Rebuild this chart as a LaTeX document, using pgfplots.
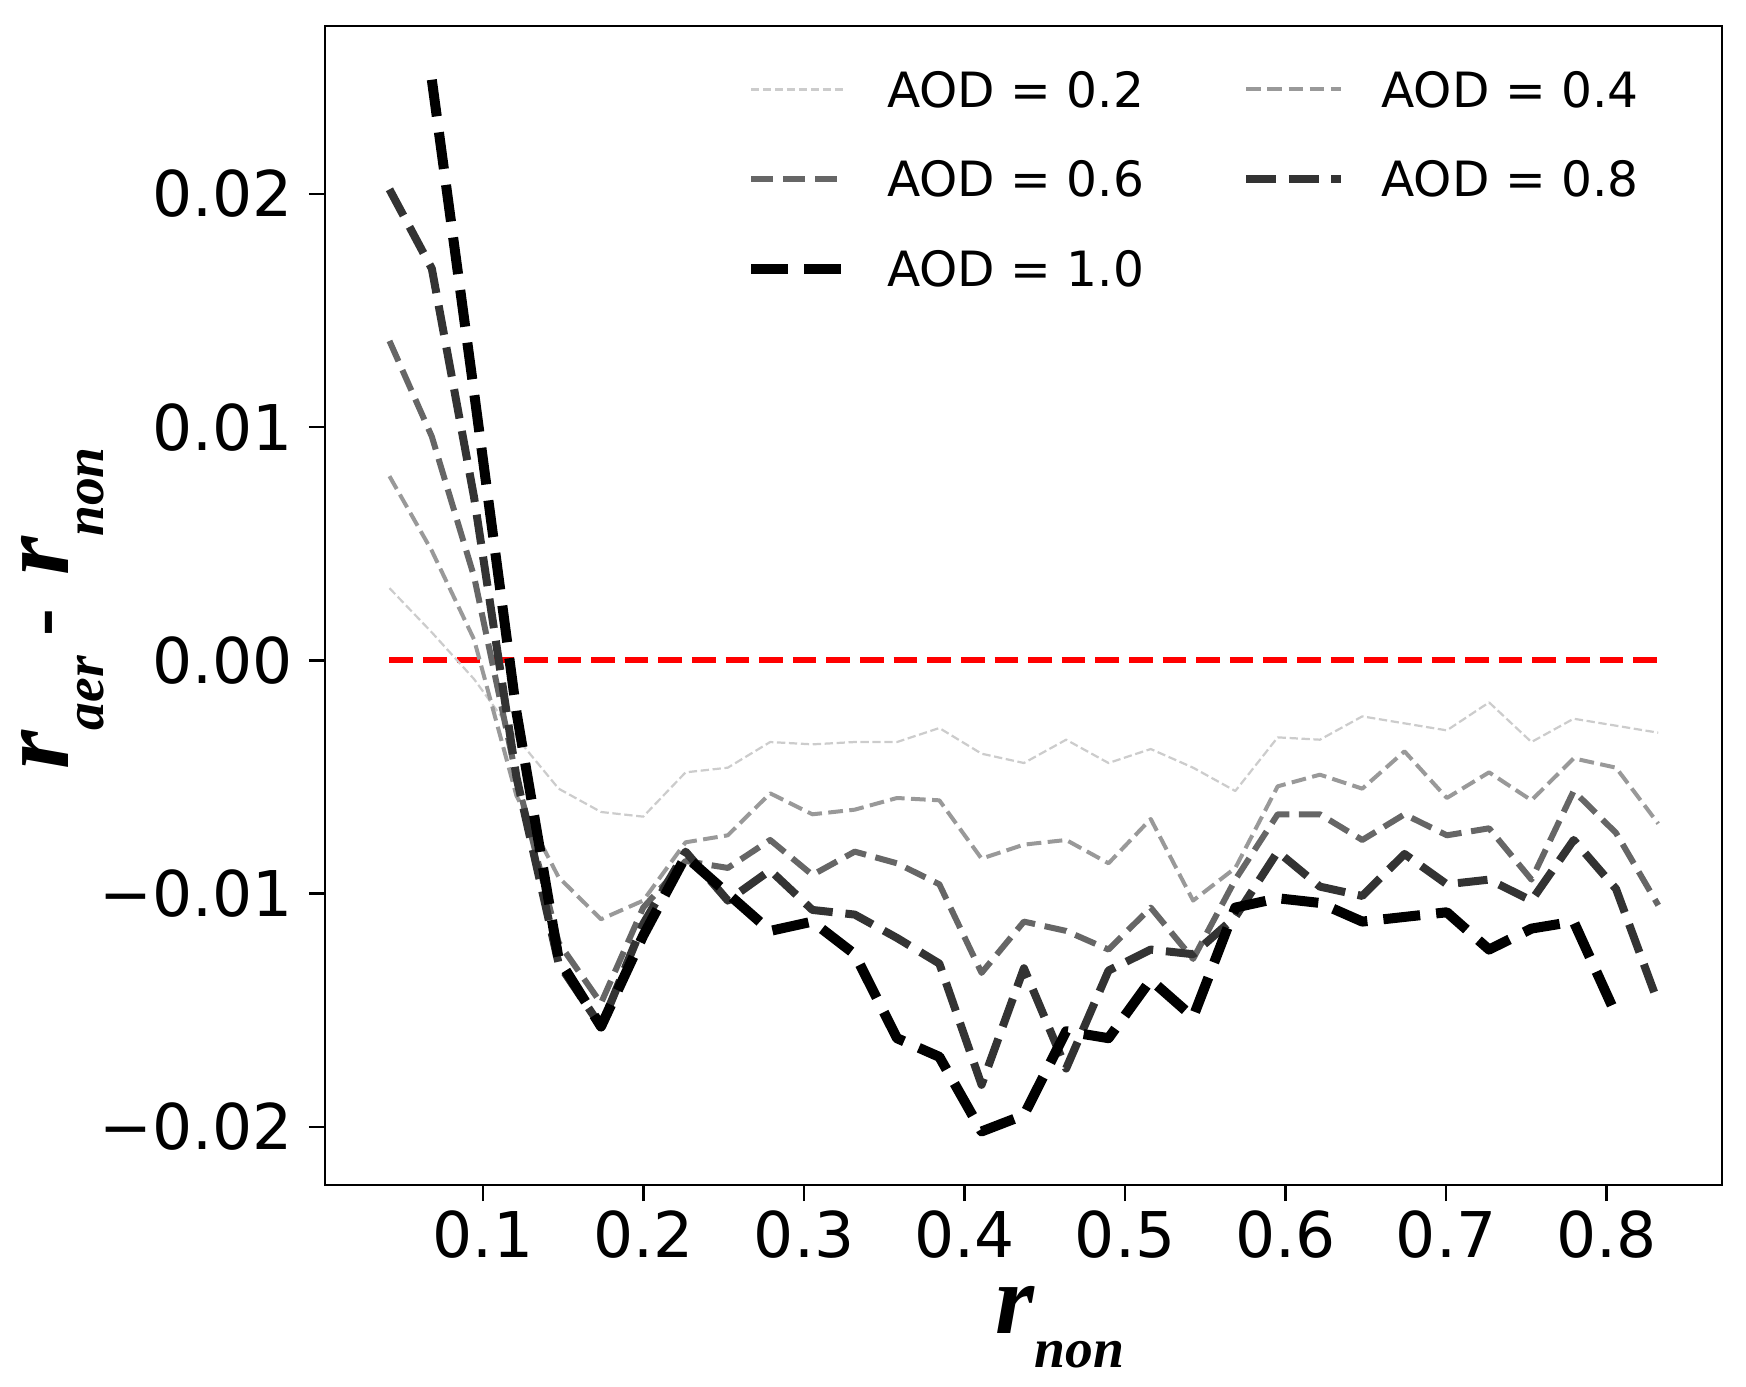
\documentclass[border=0pt]{standalone}
\usepackage{fontspec}
\setmainfont{DejaVu Sans}
\newfontfamily\lserif{Liberation Serif}
\usepackage{pgfplots}
\pgfplotsset{compat=1.18}
\definecolor{aodA}{gray}{0.80}
\definecolor{aodB}{gray}{0.60}
\definecolor{aodC}{gray}{0.40}
\definecolor{aodD}{gray}{0.20}
\newcommand\bir[1]{{\lserif\bfseries\itshape\fontsize{36bp}{36bp}\selectfont r}\raisebox{-12.5bp}{\lserif\bfseries\itshape\fontsize{20bp}{20bp}\selectfont #1}}
\begin{document}
\begin{tikzpicture}
\begin{axis}[
  at={(0,0)}, anchor=south west, scale only axis,
  width=502.9bp, height=417.2bp,
  xmin=0.00156, xmax=0.872, ymin=-0.0225, ymax=0.0272,
  axis line style={line width=0.9bp, black},
  tick align=outside, tick pos=left,
  major tick length=5.8bp,
  tick style={line width=0.9bp, black},
  xtick={0.1,0.2,0.3,0.4,0.5,0.6,0.7,0.8},
  xticklabels={0.1,0.2,0.3,0.4,0.5,0.6,0.7,0.8},
  ytick={-0.02,-0.01,0,0.01,0.02},
  yticklabels={−0.02,−0.01,0.00,0.01,0.02},
  scaled y ticks=false, scaled x ticks=false,
  tick label style={font=\fontsize{22.7bp}{27bp}\selectfont},
  yticklabel style={xshift=-2.4bp},
  legend columns=2,
  legend cell align=left,
  legend image code/.code={\draw[#1] (0bp,0bp) -- (34bp,0bp);},
  legend style={draw=none, fill=none, inner sep=0pt, outer sep=0pt,
    at={(0.3014,0.9607)}, anchor=north west, row sep=19.5bp,
    font=\fontsize{17.5bp}{21bp}\selectfont,
    nodes={inner sep=0pt, text height=12.8bp, text depth=0pt},
    /tikz/every odd column/.append style={column sep=13.2bp},
    /tikz/every even column/.append style={column sep=35.3bp}},
]
\addplot[red, line width=2.2bp, dash pattern=on 8.5bp off 3.6bp, forget plot] coordinates {(0.0417,0) (0.8322,0)};
\addplot[aodA, line width=0.8bp, dash pattern=on 3bp off 1.3bp, line join=round] coordinates {
(0.0417,0.0031) (0.0681,0.0012) (0.0944,-0.0008) (0.1208,-0.0033) (0.1471,-0.0055) (0.1735,-0.0065) (0.1998,-0.0067) (0.2262,-0.0048) (0.2525,-0.0046) (0.2789,-0.0035) (0.3052,-0.0036) (0.3316,-0.0035) (0.3579,-0.0035) (0.3843,-0.0029) (0.4106,-0.0040) (0.4370,-0.0044) (0.4633,-0.0034) (0.4897,-0.0044) (0.5160,-0.0038) (0.5424,-0.0046) (0.5687,-0.0056) (0.5951,-0.0033) (0.6214,-0.0034) (0.6478,-0.0024) (0.6741,-0.0027) (0.7005,-0.0030) (0.7268,-0.0018) (0.7532,-0.0035) (0.7795,-0.0025) (0.8059,-0.0028) (0.8322,-0.0031)};
\addlegendentry{AOD = 0.2}
\addplot[aodB, line width=1.44bp, dash pattern=on 5.3bp off 2.3bp, line join=round] coordinates {
(0.0417,0.0079) (0.0681,0.0047) (0.0944,0.0009) (0.1208,-0.0058) (0.1471,-0.0093) (0.1735,-0.0111) (0.1998,-0.0103) (0.2262,-0.0078) (0.2525,-0.0075) (0.2789,-0.0057) (0.3052,-0.0066) (0.3316,-0.0064) (0.3579,-0.0059) (0.3843,-0.0060) (0.4106,-0.0085) (0.4370,-0.0079) (0.4633,-0.0077) (0.4897,-0.0087) (0.5160,-0.0068) (0.5424,-0.0103) (0.5687,-0.0089) (0.5951,-0.0054) (0.6214,-0.0049) (0.6478,-0.0055) (0.6741,-0.0039) (0.7005,-0.0059) (0.7268,-0.0048) (0.7532,-0.0060) (0.7795,-0.0042) (0.8059,-0.0046) (0.8322,-0.0070)};
\addlegendentry{AOD = 0.4}
\addplot[aodC, line width=2.16bp, dash pattern=on 8bp off 3.5bp, line join=round] coordinates {
(0.0417,0.0137) (0.0681,0.0096) (0.0944,0.0036) (0.1208,-0.0050) (0.1471,-0.0121) (0.1735,-0.0147) (0.1998,-0.0106) (0.2262,-0.0086) (0.2525,-0.0089) (0.2789,-0.0077) (0.3052,-0.0092) (0.3316,-0.0082) (0.3579,-0.0087) (0.3843,-0.0096) (0.4106,-0.0134) (0.4370,-0.0112) (0.4633,-0.0116) (0.4897,-0.0124) (0.5160,-0.0106) (0.5424,-0.0128) (0.5687,-0.0094) (0.5951,-0.0066) (0.6214,-0.0066) (0.6478,-0.0077) (0.6741,-0.0066) (0.7005,-0.0075) (0.7268,-0.0072) (0.7532,-0.0094) (0.7795,-0.0056) (0.8059,-0.0074) (0.8322,-0.0105)};
\addlegendentry{AOD = 0.6}
\addplot[aodD, line width=2.88bp, dash pattern=on 10.7bp off 4.6bp, line join=round] coordinates {
(0.0417,0.0202) (0.0681,0.0168) (0.0944,0.0070) (0.1208,-0.0050) (0.1471,-0.0130) (0.1735,-0.0157) (0.1998,-0.0113) (0.2262,-0.0082) (0.2525,-0.0103) (0.2789,-0.0090) (0.3052,-0.0107) (0.3316,-0.0109) (0.3579,-0.0119) (0.3843,-0.0130) (0.4106,-0.0182) (0.4370,-0.0132) (0.4633,-0.0175) (0.4897,-0.0133) (0.5160,-0.0124) (0.5424,-0.0126) (0.5687,-0.0110) (0.5951,-0.0082) (0.6214,-0.0097) (0.6478,-0.0101) (0.6741,-0.0083) (0.7005,-0.0096) (0.7268,-0.0094) (0.7532,-0.0103) (0.7795,-0.0077) (0.8059,-0.0098) (0.8322,-0.0147)};
\addlegendentry{AOD = 0.8}
\addplot[black, line width=3.6bp, dash pattern=on 13.3bp off 5.8bp, line join=round] coordinates {
(0.0681,0.0249) (0.0944,0.0115) (0.1208,-0.0022) (0.1471,-0.0128) (0.1735,-0.0157) (0.1998,-0.0118) (0.2262,-0.0084) (0.2525,-0.0100) (0.2789,-0.0116) (0.3052,-0.0112) (0.3316,-0.0126) (0.3579,-0.0162) (0.3843,-0.0170) (0.4106,-0.0202) (0.4370,-0.0195) (0.4633,-0.0159) (0.4897,-0.0162) (0.5160,-0.0137) (0.5424,-0.0153) (0.5687,-0.0106) (0.5951,-0.0102) (0.6214,-0.0104) (0.6478,-0.0112) (0.6741,-0.0110) (0.7005,-0.0108) (0.7268,-0.0124) (0.7532,-0.0115) (0.7795,-0.0112) (0.8059,-0.0152)};
\addlegendentry{AOD = 1.0}
\end{axis}
\node[anchor=base west, inner sep=0pt] at (241.2bp,-53.3bp) {\bir{non}};
\node[rotate=90, anchor=base west, inner sep=0pt] at (-92.4bp,149.5bp) {\bir{aer}\hspace{7bp}{\lserif\bfseries\fontsize{30bp}{30bp}\selectfont -}\hspace{12bp}\bir{non}};
\pgfresetboundingbox
\path[use as bounding box] (-117bp,-72.4bp) rectangle (511.5bp,426.6bp);
\end{tikzpicture}
\end{document}
